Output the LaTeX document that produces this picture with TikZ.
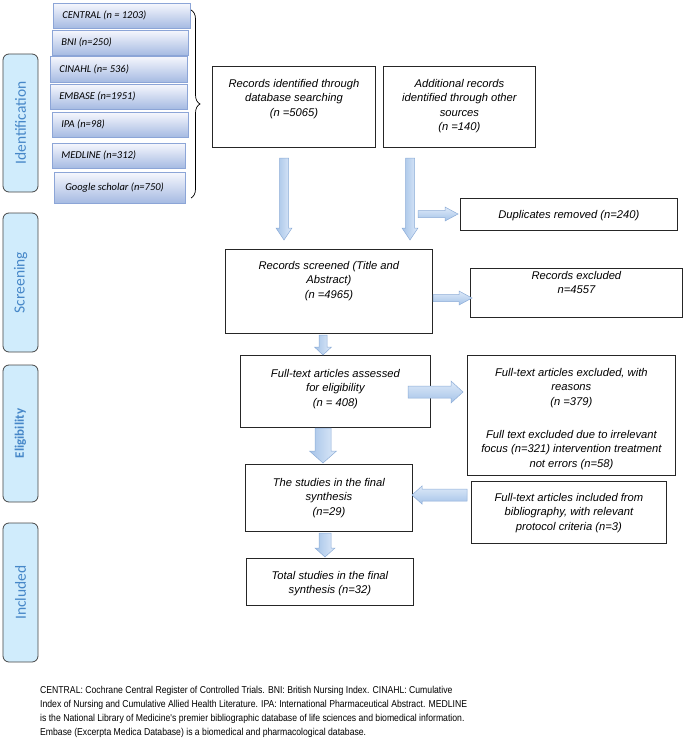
\documentclass[tikz,border=0pt]{standalone}
\usepackage{fontspec}
\setmainfont{Liberation Sans}
\newfontfamily\calfont{Carlito}
\newfontfamily\footfont[FakeStretch=0.865]{Liberation Sans}
\usetikzlibrary{calc,decorations.pathreplacing}
\definecolor{phasefill}{RGB}{208,236,252}
\definecolor{phasetext}{RGB}{70,135,200}
\definecolor{phaseline}{RGB}{70,70,70}
\definecolor{stacktop}{RGB}{246,247,253}
\definecolor{stackbot}{RGB}{165,186,226}
\definecolor{stackline}{RGB}{140,165,215}
\definecolor{arrowA}{RGB}{165,195,232}
\definecolor{arrowB}{RGB}{222,234,249}
\definecolor{arrowline}{RGB}{140,172,215}
\newcommand\tb[4]{\parbox[c][#2][t]{#1}{\centering\vspace*{#3}#4\par}}
\newcommand\stacklabel[2]{\makebox[#1][l]{\hspace*{9bp}#2}}
\newcommand\barrow[6]{%
  \coordinate (hb) at ($(#3)!#6!(#2)$);
  \path[#1] ($(#2)!#4!90:(#3)$) -- ($(hb)!#4!90:(#3)$) -- ($(hb)!#5!90:(#3)$) -- (#3)
    -- ($(hb)!#5!-90:(#3)$) -- ($(hb)!#4!-90:(#3)$) -- ($(#2)!#4!-90:(#3)$) -- cycle;}
\begin{document}
\begin{tikzpicture}[x=1bp,y=-1bp,
  mbox/.style={draw=black!85, line width=0.8bp, fill=white, inner sep=0pt, anchor=north west,
    font=\itshape\fontsize{11.2bp}{14.3bp}\selectfont},
  phase/.style={draw=phaseline, line width=0.8bp, fill=phasefill, rounded corners=6bp,
    minimum width=35bp, inner sep=0pt, text=phasetext, font=\calfont\fontsize{15.5bp}{18bp}\selectfont},
  sbox/.style={draw=stackline, line width=0.6bp, top color=stacktop, bottom color=stackbot,
    inner sep=0pt, anchor=north west, font=\calfont\itshape\fontsize{10.5bp}{12bp}\selectfont},
  varrow/.style={left color=arrowA, right color=arrowB, draw=arrowline, line width=0.5bp},
  harrow/.style={top color=arrowB, bottom color=arrowA, draw=arrowline, line width=0.5bp}]
\useasboundingbox (0,0) rectangle (685,744);

% phase labels
\node[phase, minimum height=138bp] (ph1) at (20.5,123) {\rotatebox{90}{Identification}};
\node[phase, minimum height=139bp] (ph2) at (20.5,282.5) {\rotatebox{90}{Screening}};
\node[phase, minimum height=137bp, font=\calfont\bfseries\fontsize{13bp}{15bp}\selectfont] (ph3) at (20.5,433.5) {\rotatebox{90}{Eligibility}};
\node[phase, minimum height=139bp] (ph4) at (20.5,592.5) {\rotatebox{90}{Included}};

% database stack
\node[sbox, minimum height=25bp] (s1) at (53,3) {\stacklabel{137bp}{CENTRAL (n = 1203)}};
\node[sbox, minimum height=25bp] (s2) at (52,30) {\stacklabel{136bp}{BNI (n=250)}};
\node[sbox, minimum height=26bp] (s3) at (50,56) {\stacklabel{137bp}{CINAHL (n= 536)}};
\node[sbox, minimum height=25bp] (s4) at (50,84) {\stacklabel{137bp}{EMBASE (n=1951)}};
\node[sbox, minimum height=25bp] (s5) at (52,112) {\stacklabel{136bp}{IPA (n=98)}};
\node[sbox, minimum height=25bp] (s6) at (52,143) {\stacklabel{133bp}{MEDLINE (n=312)}};
\node[sbox, minimum height=31bp] (s7) at (54,172) {\stacklabel{131bp}{\hspace*{2bp}Google scholar (n=750)}};

% brace
\coordinate (br1) at (191,10);
\coordinate (br2) at (191,198);
\draw[line width=0.7bp, decorate, decoration={brace, amplitude=9bp}] (br1) -- (br2);

% main boxes
\node[mbox] (A) at (212,66) {\tb{163bp}{81bp}{13bp}{Records identified through\\database searching\\(n =5065)}};
\node[mbox] (B) at (383,66) {\tb{152bp}{81bp}{13bp}{Additional records\\identified through other\\sources\\(n =140)}};
\node[mbox] (Dup) at (460,198) {\tb{217bp}{32bp}{12bp}{Duplicates removed (n=240)}};
\node[mbox] (C) at (225,249) {\tb{207bp}{84bp}{12bp}{Records screened (Title and\\Abstract)\\(n =4965)}};
\node[mbox] (Ex) at (470,268) {\tb{212bp}{49bp}{3bp}{Records excluded\\n=4557}};
\node[mbox] (D) at (240,355) {\tb{190bp}{72bp}{14bp}{Full-text articles assessed\\for eligibility\\(n = 408)}};
\node[mbox] (E) at (467,355) {\tb{208bp}{120bp}{13bp}{Full-text articles excluded, with\\reasons\\(n =379)\\[19bp]Full text excluded due to irrelevant\\focus (n=321) intervention treatment\\not errors (n=58)}};
\node[mbox] (F) at (245,464) {\tb{167bp}{67bp}{14bp}{The studies in the final\\synthesis\\(n=29)}};
\node[mbox] (G) at (471,481) {\tb{195bp}{62bp}{12bp}{Full-text articles included from\\bibliography, with relevant\\protocol criteria (n=3)}};
\node[mbox] (H) at (246,558) {\tb{167bp}{47bp}{13bp}{Total studies in the final\\synthesis (n=32)}};

% arrows
\coordinate (a1s) at (284,158); \coordinate (a1e) at (284,240);
\coordinate (a2s) at (410,158); \coordinate (a2e) at (410,240);
\coordinate (a3s) at (418,214); \coordinate (a3e) at (458,214);
\coordinate (a4s) at (433,298); \coordinate (a4e) at (472,298);
\coordinate (a5s) at (323,335); \coordinate (a5e) at (323,355);
\coordinate (a6s) at (408,392); \coordinate (a6e) at (463,392);
\coordinate (a7s) at (323,428); \coordinate (a7e) at (323,463);
\coordinate (a8s) at (467,495); \coordinate (a8e) at (412,495);
\coordinate (a9s) at (325,533); \coordinate (a9e) at (325,557);
\barrow{varrow}{a1s}{a1e}{4.5bp}{8bp}{12bp}
\barrow{varrow}{a2s}{a2e}{4.5bp}{8bp}{12bp}
\barrow{harrow}{a3s}{a3e}{3.5bp}{7bp}{13bp}
\barrow{harrow}{a4s}{a4e}{3.5bp}{7bp}{13bp}
\barrow{varrow}{a5s}{a5e}{4bp}{8.5bp}{8bp}
\barrow{harrow}{a6s}{a6e}{6bp}{11bp}{12bp}
\barrow{varrow}{a7s}{a7e}{8bp}{13.5bp}{12bp}
\barrow{harrow}{a8s}{a8e}{6bp}{9bp}{10bp}
\barrow{varrow}{a9s}{a9e}{6bp}{10bp}{9bp}

% footnote
\node[anchor=north west, align=left, inner sep=0pt, font=\footfont\fontsize{10bp}{14bp}\selectfont] (foot) at (40,686)
{CENTRAL: Cochrane Central Register of Controlled Trials. BNI: British Nursing Index. CINAHL: Cumulative\\
Index of Nursing and Cumulative Allied Health Literature. IPA: International Pharmaceutical Abstract. MEDLINE\\
is the National Library of Medicine's premier bibliographic database of life sciences and biomedical information.\\
Embase (Excerpta Medica Database) is a biomedical and pharmacological database.};
\end{tikzpicture}
\end{document}
